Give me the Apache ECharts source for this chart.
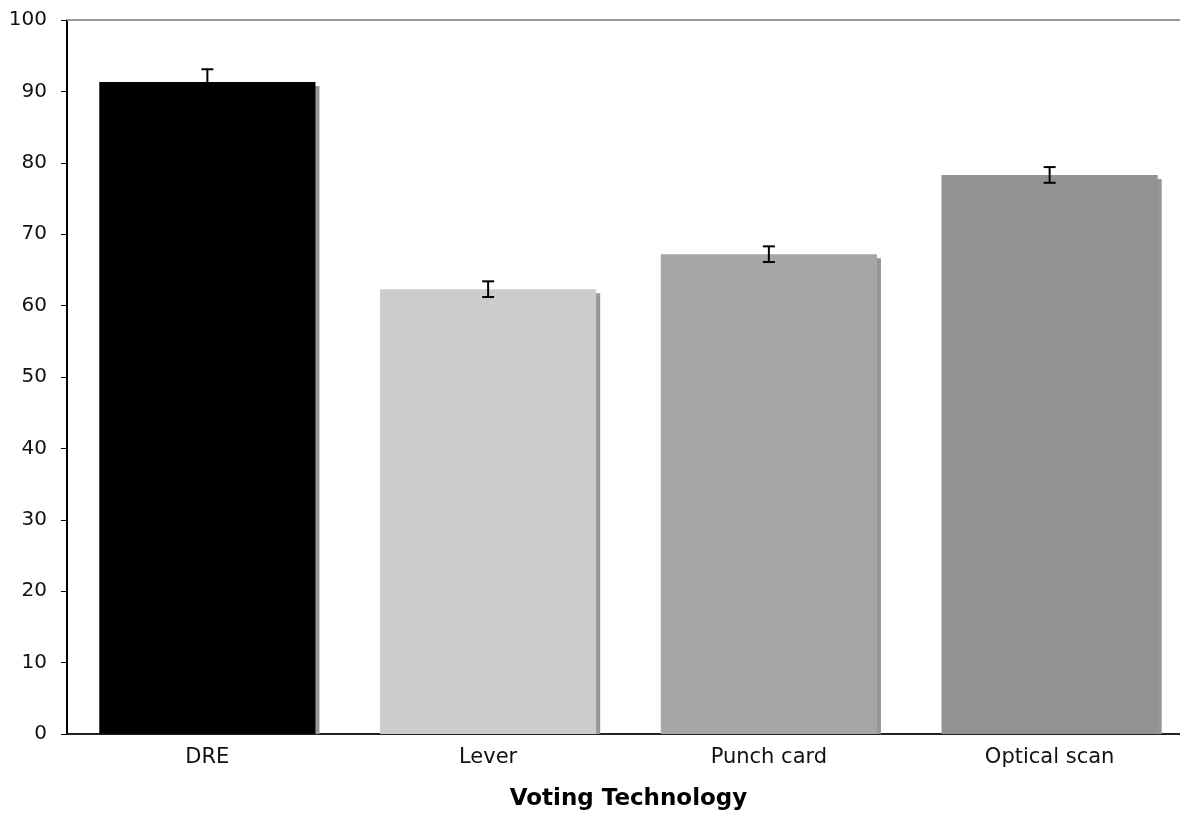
<!DOCTYPE html>
<html>
<head>
<meta charset="utf-8">
<script src="https://cdn.jsdelivr.net/npm/echarts@6/dist/echarts.min.js"></script>
<style>html,body{margin:0;padding:0;background:#fff;}#c{width:1180px;height:815px;}</style>
</head>
<body>
<div id="c"></div>
<script>
var categories = ['DRE', 'Lever', 'Punch card', 'Optical scan'];
var values = [91.3, 62.3, 67.2, 78.3];
var errors = [1.8, 1.1, 1.1, 1.1];
var barColors = ['#000000', '#cccccc', '#a6a6a6', '#929292'];
var yTicks = { min: 0, max: 100, interval: 10 };
var xTitle = 'Voting Technology';

var FONT = '"DejaVu Sans", Verdana, sans-serif';
var GAP = 0.23;

var chart = echarts.init(document.getElementById('c'), null, { renderer: 'canvas' });
chart.setOption({
  animation: false,
  backgroundColor: '#ffffff',
  grid: { left: 67, width: 1123, top: 20, height: 714, containLabel: false, outerBoundsMode: 'none' },
  xAxis: [{
    type: 'category',
    data: categories,
    axisLine: { lineStyle: { color: '#222', width: 2 } },
    axisTick: { show: false },
    axisLabel: { color: '#111', fontSize: 21, fontFamily: FONT, margin: 13 },
    name: xTitle,
    nameLocation: 'middle',
    nameGap: 54,
    nameTextStyle: { color: '#000', fontSize: 23, fontWeight: 'bold', fontFamily: FONT }
  }, {
    type: 'category',
    position: 'top',
    data: categories,
    axisLine: { show: true, lineStyle: { color: '#999', width: 2 } },
    axisTick: { show: false },
    axisLabel: { show: false }
  }],
  yAxis: {
    type: 'value',
    min: yTicks.min, max: yTicks.max, interval: yTicks.interval,
    axisLine: { show: true, lineStyle: { color: '#000', width: 2 } },
    axisTick: { show: true, length: 6, lineStyle: { color: '#000', width: 1 } },
    splitLine: { show: false },
    axisLabel: { color: '#111', fontSize: 20, fontFamily: FONT, margin: 20 }
  },
  series: [{
    type: 'custom',
    z: 1,
    data: values.map(function (v, i) { return [i, v]; }),
    renderItem: function (params, api) {
      var top = api.coord([api.value(0), api.value(1)]);
      var bot = api.coord([api.value(0), 0]);
      var w = api.size([1, 0])[0] * (1 - GAP);
      return {
        type: 'rect',
        shape: { x: top[0] - w / 2 + 4, y: top[1] + 4, width: w, height: bot[1] - top[1] - 4 },
        style: { fill: '#969696' }
      };
    }
  }, {
    type: 'bar',
    z: 2,
    barCategoryGap: (GAP * 100) + '%',
    data: values.map(function (v, i) { return { value: v, itemStyle: { color: barColors[i] } }; })
  }, {
    type: 'custom',
    z: 3,
    data: values.map(function (v, i) { return [i, v - errors[i], v + errors[i]]; }),
    renderItem: function (params, api) {
      var lo = api.coord([api.value(0), api.value(1)]);
      var hi = api.coord([api.value(0), api.value(2)]);
      var c = 6;
      var st = { stroke: '#000', lineWidth: 2 };
      return {
        type: 'group',
        children: [
          { type: 'line', shape: { x1: lo[0], y1: lo[1], x2: hi[0], y2: hi[1] }, style: st },
          { type: 'line', shape: { x1: lo[0] - c, y1: lo[1], x2: lo[0] + c, y2: lo[1] }, style: st },
          { type: 'line', shape: { x1: hi[0] - c, y1: hi[1], x2: hi[0] + c, y2: hi[1] }, style: st }
        ]
      };
    }
  }]
});
</script>
</body>
</html>
